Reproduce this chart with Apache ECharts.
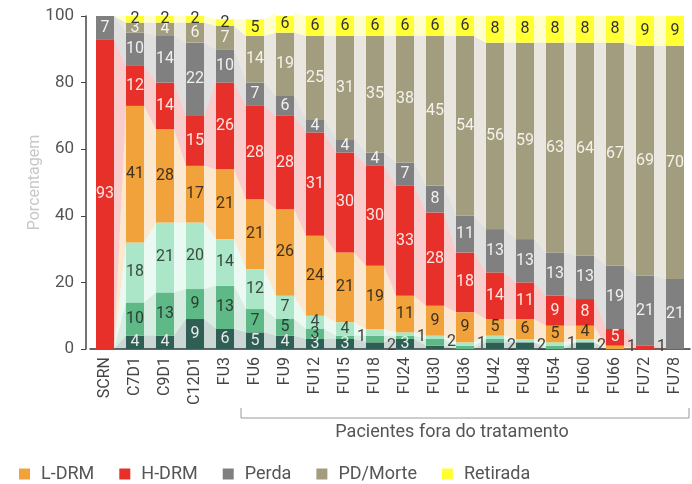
<!DOCTYPE html>
<html>
<head>
<meta charset="utf-8">
<script src="https://cdn.jsdelivr.net/npm/echarts@6/dist/echarts.min.js"></script>
<style>
  html, body { margin: 0; padding: 0; background: #fff; }
  #chart { width: 692px; height: 484px; }
</style>
</head>
<body>
<div id="chart"></div>
<script>
// categories (visits)
var categories = ["SCRN", "C7D1", "C9D1", "C12D1", "FU3", "FU6", "FU9", "FU12", "FU15", "FU18",
  "FU24", "FU30", "FU36", "FU42", "FU48", "FU54", "FU60", "FU66", "FU72", "FU78"];

// percentages per status, bottom to top
var drmNeg6 = [0, 4, 4, 9, 6, 5, 4, 3, 3, 2, 3, 1, 0, 2, 2, 0, 2, 0, 0, 0];
var drmNeg5 = [0, 10, 13, 9, 13, 7, 5, 3, 1, 2, 1, 2, 1, 1, 0, 1, 0, 0, 0, 0];
var drmNeg4 = [0, 18, 21, 20, 14, 12, 7, 4, 4, 2, 1, 1, 1, 1, 1, 1, 1, 0, 0, 0];
var lDrm = [0, 41, 28, 17, 21, 21, 26, 24, 21, 19, 11, 9, 9, 5, 6, 5, 4, 1, 0, 0];
var hDrm = [93, 12, 14, 15, 26, 28, 28, 31, 30, 30, 33, 28, 18, 14, 11, 9, 8, 5, 1, 0];
var perda = [7, 10, 14, 22, 10, 7, 6, 4, 4, 4, 7, 8, 11, 13, 13, 13, 13, 19, 21, 21];
var pdMorte = [0, 3, 4, 6, 7, 14, 19, 25, 31, 35, 38, 45, 54, 56, 59, 63, 64, 67, 69, 70];
var retirada = [0, 2, 2, 2, 2, 5, 6, 6, 6, 6, 6, 6, 6, 8, 8, 8, 8, 8, 9, 9];

var yTicks = { min: 0, max: 100, interval: 20 };

var tiers = [
  { name: "DRM- 10⁻⁶", data: drmNeg6, color: "#2f5e55", text: "#e6ece9" },
  { name: "DRM- 10⁻⁵", data: drmNeg5, color: "#5fb986", text: "#2b3d33" },
  { name: "DRM- 10⁻⁴", data: drmNeg4, color: "#abe6c9", text: "#3b4a41" },
  { name: "L-DRM", data: lDrm, color: "#f2a23a", text: "#3d3222" },
  { name: "H-DRM", data: hDrm, color: "#e8302a", text: "#fbe7e4" },
  { name: "Perda", data: perda, color: "#808080", text: "#f0f0f0" },
  { name: "PD/Morte", data: pdMorte, color: "#a39d7f", text: "#f4f2ea" },
  { name: "Retirada", data: retirada, color: "#ffff33", text: "#333333" }
];

var font = "Roboto, 'Noto Sans', sans-serif";
var halfBar = 9;

var barSeries = tiers.map(function (t, k) {
  return {
    name: t.name,
    type: "bar",
    stack: "total",
    barWidth: 18,
    z: 3,
    itemStyle: { color: t.color },
    label: {
      show: true,
      position: "inside",
      color: t.text,
      fontSize: 16,
      fontFamily: font,
      formatter: function (p) { return p.value > 0 ? p.value : ""; }
    },
    labelLayout: function (p) {
      var v = t.data[p.dataIndex];
      return (v > 0 && v < 3 && k < 7) ? { hideOverlap: true } : {};
    },
    data: t.data.map(function (v) {
      if (v > 0 && v < 3 && t.name !== "Retirada") {
        return { value: v, label: { position: "right", distance: 3, color: "#444" } };
      }
      return v;
    })
  };
});

// light ribbons joining each status between neighbouring bars
var flowSeries = {
  type: "custom",
  z: 1,
  silent: true,
  data: categories.slice(0, -1).map(function (c, i) { return i; }),
  renderItem: function (params, api) {
    var i = api.value(0);
    var children = [];
    var a = 0, b = 0;
    tiers.forEach(function (t) {
      var va = t.data[i], vb = t.data[i + 1];
      var p0 = api.coord([i, a]), p1 = api.coord([i, a + va]);
      var q0 = api.coord([i + 1, b]), q1 = api.coord([i + 1, b + vb]);
      a += va; b += vb;
      if (va === 0 && vb === 0) return;
      children.push({
        type: "polygon",
        shape: { points: [
          [p0[0] + halfBar, p0[1]], [p1[0] + halfBar, p1[1]],
          [q1[0] - halfBar, q1[1]], [q0[0] - halfBar, q0[1]]
        ] },
        style: { fill: t.color, opacity: 0.25 }
      });
    });
    return { type: "group", children: children };
  }
};

var chart = echarts.init(document.getElementById("chart"));
chart.setOption({
  animation: false,
  textStyle: { fontFamily: font },
  grid: { left: 90, right: 2, top: 16, bottom: 135 },
  legend: {
    data: ["L-DRM", "H-DRM", "Perda", "PD/Morte", "Retirada"],
    left: 14,
    top: 460,
    icon: "rect",
    itemWidth: 11,
    itemHeight: 11,
    itemGap: 25,
    textStyle: { fontSize: 18, color: "#555", padding: [0, 0, 0, 6] }
  },
  xAxis: {
    type: "category",
    data: categories,
    axisLine: { lineStyle: { color: "#333", width: 1.5 } },
    axisTick: { show: false },
    axisLabel: { rotate: 90, fontSize: 16, color: "#444", margin: 8 }
  },
  yAxis: {
    type: "value",
    min: yTicks.min,
    max: yTicks.max,
    interval: yTicks.interval,
    offset: 4,
    name: "Porcentagem",
    nameLocation: "middle",
    nameGap: 43,
    nameMoveOverlap: false,
    nameTextStyle: { color: "#c8c8c8", fontSize: 16 },
    axisLine: { show: true, lineStyle: { color: "#444", width: 1.5 } },
    axisTick: { show: true, length: 5, lineStyle: { color: "#444" } },
    axisLabel: { fontSize: 17, color: "#555", margin: 12 },
    splitLine: { show: false }
  },
  graphic: [
    {
      type: "polyline",
      shape: { points: [[241, 408], [241, 418], [689, 418], [689, 408]] },
      style: { stroke: "#9a9a9a", lineWidth: 1, fill: null }
    },
    {
      type: "text",
      x: 452,
      y: 432,
      style: { text: "Pacientes fora do tratamento", fontSize: 18, fill: "#555",
        textAlign: "center", textVerticalAlign: "middle", fontFamily: font }
    }
  ],
  series: [flowSeries].concat(barSeries)
});
</script>
</body>
</html>
